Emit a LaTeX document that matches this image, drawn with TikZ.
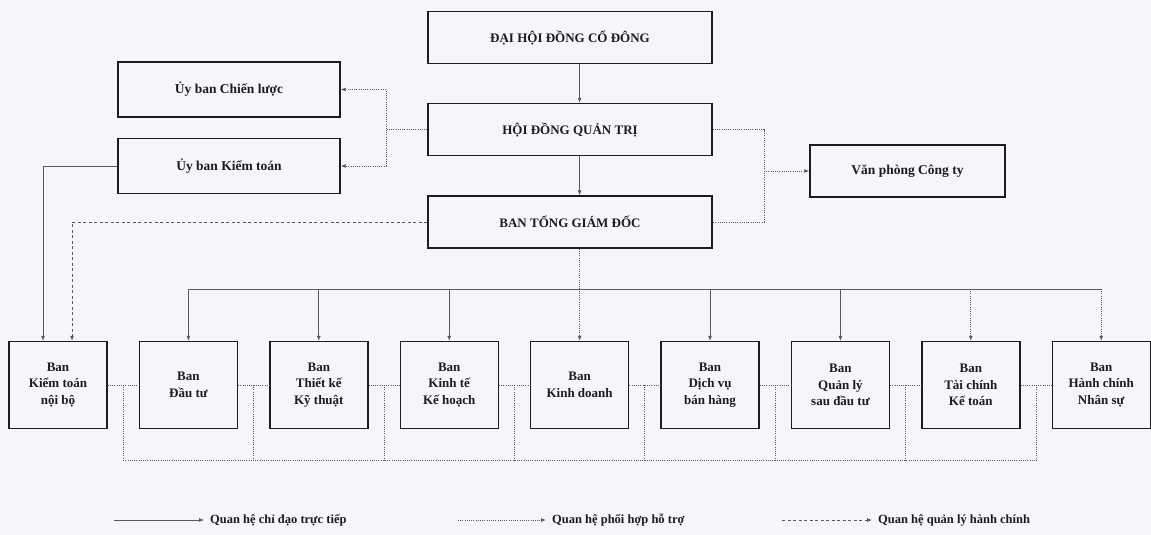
\documentclass[tikz,border=0pt]{standalone}
\usepackage{fontspec}
\setmainfont{Liberation Serif}
\definecolor{paper}{HTML}{F4F6FA}
\definecolor{ink}{HTML}{1C1C1C}
\definecolor{wire}{HTML}{5A5A5A}
\usetikzlibrary{arrows.meta,calc}

\begin{document}
\begin{tikzpicture}[
  x=1pt, y=-1pt,
  topbox/.style={rectangle, draw=ink, line width=1.4pt, fill=paper,
    text=ink, minimum width=284pt, minimum height=52pt,
    align=center, font=\fontsize{13}{15}\selectfont\bfseries},
  sidebox/.style={topbox, minimum width=222pt, minimum height=55pt,
    font=\fontsize{13.5}{15}\selectfont\bfseries},
  unitbox/.style={topbox, minimum width=98pt, minimum height=87pt,
    font=\fontsize{13}{16.5}\selectfont\bfseries},
  direct/.style={wire, line width=0.7pt},
  coop/.style={wire, line width=0.8pt, dash pattern=on 1pt off 1.2pt},
  admin/.style={wire, line width=0.8pt, dash pattern=on 3pt off 2.5pt},
  head/.style={-{Latex[length=5pt,width=4pt]}},
  legtext/.style={text=ink, anchor=west, inner sep=0pt,
    font=\fontsize{12.5}{14}\selectfont\bfseries},
]
  \fill[paper] (0,0) rectangle (1151,535);
  \useasboundingbox (0,0) rectangle (1151,535);

  % top of the chart
  \node[topbox] (dhdcd) at (570,37.5) {ĐẠI HỘI ĐỒNG CỔ ĐÔNG};
  \node[topbox] (hdqt) at (570,129.5) {HỘI ĐỒNG QUẢN TRỊ};
  \node[topbox] (btgd) at (570,222) {BAN TỔNG GIÁM ĐỐC};
  \node[sidebox] (uycl) at (229,89.5) {Ủy ban Chiến lược};
  \node[sidebox] (uykt) at (229,166) {Ủy ban Kiểm toán};
  \node[sidebox, minimum width=195pt, minimum height=52pt] (vpct)
    at (907.5,171) {Văn phòng Công ty};

  % departments
  \foreach \i/\txt in {1/{Ban\\Kiểm toán\\nội bộ}, 2/{Ban\\Đầu tư},
      3/{Ban\\Thiết kế\\Kỹ thuật}, 4/{Ban\\Kinh tế\\Kế hoạch},
      5/{Ban\\Kinh doanh}, 6/{Ban\\Dịch vụ\\bán hàng},
      7/{Ban\\Quản lý\\sau đầu tư}, 8/{Ban\\Tài chính\\Kế toán},
      9/{Ban\\Hành chính\\Nhân sự}}
    \node[unitbox] (u\i) at ({58+130.4*(\i-1)},385) {\txt};

  \coordinate (bus) at (0,289);
  \coordinate (low) at (0,460);
  \coordinate (hjoin) at (386,0);
  \coordinate (vjoin) at (764,0);

  % main line
  \draw[direct,head] (dhdcd.south -| u5.north) -- (hdqt.north -| u5.north);
  \draw[direct,head] (hdqt.south -| u5.north) -- (btgd.north -| u5.north);
  \draw[coop,head] (btgd.south -| u5.north) -- (u5.north);
  \draw[direct] (u2.north |- bus) -- (u9.north |- bus);
  \foreach \i in {2,3,4,6,7}
    \draw[direct,head] (u\i.north |- bus) -- (u\i.north);
  \foreach \i in {8,9}
    \draw[coop,head] (u\i.north |- bus) -- (u\i.north);

  % committees and office
  \draw[coop,head] (hdqt.west) -| (hjoin |- uycl.east) -- (uycl.east);
  \draw[coop,head] (hdqt.west) -| (hjoin |- uykt.east) -- (uykt.east);
  \draw[coop] (hdqt.east) -| (vjoin |- btgd.east) -- (btgd.east);
  \draw[coop,head] (vjoin |- vpct.west) -- (vpct.west);

  % internal audit
  \draw[direct,head] (uykt.west) -| ([xshift=-15pt]u1.north);
  \draw[admin,head] (btgd.west) -| ([xshift=14pt]u1.north);

  % links between departments
  \foreach \i [evaluate=\i as \j using int(\i+1)] in {1,...,8} {
    \draw[coop] (u\i.east) -- (u\j.west);
    \coordinate (g\i) at ($(u\i.east)!0.5!(u\j.west)$);
    \draw[coop] (g\i) -- (g\i |- low);
  }
  \draw[coop] (g1 |- low) -- (g8 |- low);

  % legend
  \node[legtext] (leg1) at (210,520) {Quan hệ chỉ đạo trực tiếp};
  \node[legtext] (leg2) at (552,520) {Quan hệ phối hợp hỗ trợ};
  \node[legtext] (leg3) at (878,520) {Quan hệ quản lý hành chính};
  \coordinate (leg1s) at (114,520);
  \coordinate (leg2s) at (458,520);
  \coordinate (leg3s) at (782,520);
  \draw[direct,head] (leg1s) -- ([xshift=-6pt]leg1.west);
  \draw[coop,head] (leg2s) -- ([xshift=-6pt]leg2.west);
  \draw[admin,head] (leg3s) -- ([xshift=-6pt]leg3.west);
\end{tikzpicture}
\end{document}
